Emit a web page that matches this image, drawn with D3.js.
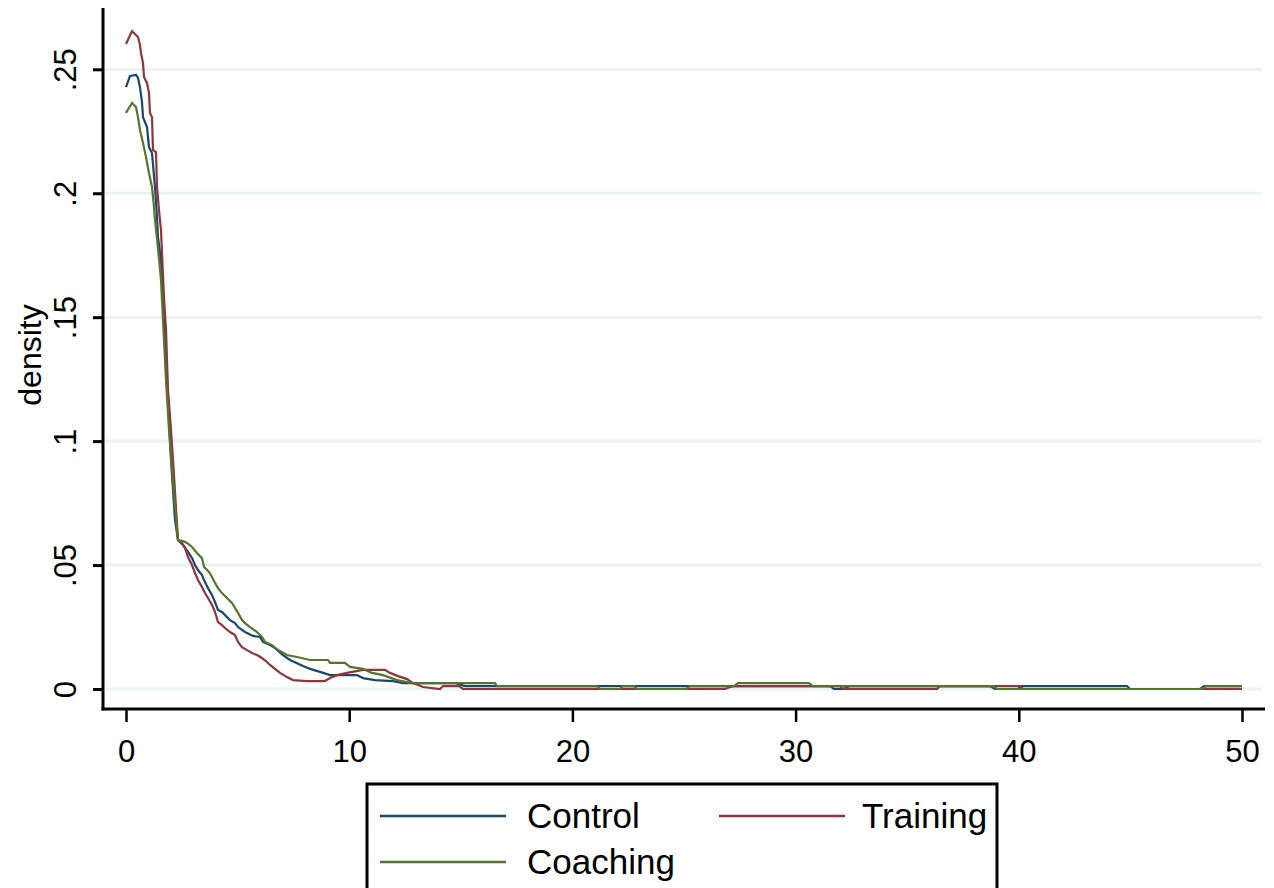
<!DOCTYPE html>
<meta charset="utf-8">
<script src="https://d3js.org/d3.v7.min.js"></script>
<style>
  body { margin: 0; background: #fff; }
  text { font-family: "Liberation Sans", Arial, sans-serif; fill: #000; }
</style>
<div id="chart"></div>
<script>

// Series: [value, density]
const control = [[0,.2428],[0.179,.2473],[0.448,.2477],[0.538,.2465],[0.627,.2428],[0.717,.2368],[0.762,.2307],[0.941,.2267],[1.03,.2186],[1.165,.2162],[1.299,.2025],[1.389,.1904],[1.434,.1823],[1.568,.1731],[1.658,.1569],[1.837,.1247],[2.016,.0924],[2.195,.0682],[2.33,.0601],[2.554,.0581],[2.778,.0553],[2.957,.0528],[3.091,.05],[3.226,.048],[3.405,.046],[3.495,.044],[3.674,.0407],[3.853,.0379],[3.987,.0351],[4.122,.0319],[4.301,.0311],[4.525,.029],[4.659,.0278],[4.884,.0266],[5.018,.025],[5.332,.023],[5.69,.0214],[6.004,.021],[6.138,.019],[6.452,.0177],[6.676,.0165],[7.034,.0137],[7.348,.0117],[7.93,.0093],[8.244,.0081],[8.692,.0069],[9.14,.0056],[10.349,.0056],[10.618,.0044],[11.156,.0036],[11.962,.0032],[12.41,.0024],[14.74,.0024],[15.188,.0012],[31.54,.0012],[31.72,0],[32.12,0],[32.44,.0012],[38.71,.0012],[38.93,0],[39.96,0],[40.1,.0012],[44.85,.0012],[44.98,0],[48.12,0],[48.3,.0012],[50,.0012]];

const training = [[0,.2602],[0.269,.2654],[0.538,.263],[0.627,.2598],[0.672,.2566],[0.762,.2525],[0.806,.2469],[0.941,.2445],[1.03,.2404],[1.075,.2324],[1.165,.2307],[1.21,.2174],[1.344,.2166],[1.389,.2025],[1.478,.1932],[1.568,.1852],[1.613,.1759],[1.703,.1577],[1.792,.1448],[1.882,.1206],[2.016,.1045],[2.106,.0924],[2.33,.0601],[2.509,.0589],[2.643,.0569],[2.778,.0532],[2.957,.05],[3.091,.0468],[3.226,.044],[3.405,.0411],[3.539,.0387],[3.674,.0367],[3.853,.0339],[3.987,.0311],[4.122,.027],[4.301,.0258],[4.435,.0246],[4.659,.023],[4.884,.0218],[5.018,.019],[5.197,.0169],[5.421,.0157],[5.645,.0145],[5.869,.0137],[6.093,.0125],[6.317,.0109],[6.452,.0097],[6.676,.0081],[6.9,.0065],[7.213,.0048],[7.482,.0036],[8.109,.0032],[8.916,.0032],[9.14,.0044],[9.453,.0056],[9.901,.0065],[10.618,.0077],[11.604,.0077],[11.828,.0065],[12.186,.0052],[12.59,.004],[12.858,.0024],[13.306,.0008],[14.068,0],[14.203,.0012],[14.919,.0012],[15.099,0],[26.84,0],[27.2,.0012],[31.99,.0012],[32.12,0],[36.34,0],[36.47,.0012],[40.05,.0012],[40.19,0],[50,0]];

const coaching = [[0,.2324],[0.269,.2364],[0.448,.2348],[0.538,.2307],[0.627,.2255],[0.762,.2203],[0.896,.2146],[1.03,.2082],[1.165,.2025],[1.254,.1944],[1.299,.1892],[1.434,.1779],[1.568,.165],[1.658,.1489],[1.792,.1246],[1.927,.1045],[2.061,.0883],[2.195,.0742],[2.33,.0601],[2.554,.0597],[2.733,.0589],[2.957,.0573],[3.181,.0549],[3.405,.0528],[3.495,.0492],[3.719,.0472],[3.853,.0452],[3.987,.0428],[4.122,.0407],[4.301,.0387],[4.525,.0367],[4.749,.0347],[4.884,.0327],[5.018,.0307],[5.197,.0278],[5.332,.0266],[5.556,.025],[5.869,.023],[6.093,.021],[6.228,.019],[6.541,.0177],[6.81,.0157],[7.213,.0137],[7.661,.0129],[8.244,.0117],[9.05,.0117],[9.14,.0105],[9.812,.0105],[10.036,.0089],[10.618,.0081],[11.022,.0065],[11.514,.0056],[12.142,.0036],[12.814,.0024],[16.53,.0024],[16.62,.0012],[21.1,.0012],[21.24,0],[22.13,0],[22.27,.0012],[22.76,.0012],[22.89,0],[25.09,0],[25.27,.0012],[27.24,.0012],[27.42,.0024],[30.6,.0024],[30.78,.0012],[38.84,.0012],[39.02,0],[48.21,0],[48.39,.0012],[50,.0012]];

const seriesNames = ["Control", "Training", "Coaching"];
const seriesColors = ["#1a476f", "#90353b", "#55752f"];
const xTicks = [0, 10, 20, 30, 40, 50];
const yTicks = [0, .05, .1, .15, .2, .25];
const yTickLabels = ["0", ".05", ".1", ".15", ".2", ".25"];

const W = 1274, H = 888;
const axisX = 103, axisY = 709;

const svg = d3.select("#chart").append("svg")
    .attr("width", W).attr("height", H);
svg.append("rect").attr("width", W).attr("height", H).attr("fill", "#fff");

const x = d3.scaleLinear().domain([0, 50]).range([126, 1242]);
const y = d3.scaleLinear().domain([0, .25]).range([689, 69.3]);

// gridlines
svg.append("g").selectAll("line")
    .data(yTicks)
    .join("line")
    .attr("x1", axisX + 2).attr("x2", 1262)
    .attr("y1", d => y(d)).attr("y2", d => y(d))
    .attr("stroke", "#eaf2f3").attr("stroke-width", 3);

// curves
const line = d3.line().x(d => x(d[0])).y(d => y(d[1]));
[control, training, coaching].forEach(function (s, i) {
    svg.append("path")
        .datum(s)
        .attr("fill", "none")
        .attr("stroke", seriesColors[i])
        .attr("stroke-width", 2.2)
        .attr("d", line);
});

// y axis
const yAxis = svg.append("g")
    .attr("transform", `translate(${axisX},0)`)
    .call(d3.axisLeft(y).tickValues(yTicks).tickSize(10).tickSizeOuter(0)
        .tickFormat((d, i) => yTickLabels[i]));
yAxis.select(".domain").remove();
yAxis.selectAll(".tick line").attr("stroke", "#000").attr("stroke-width", 3);
yAxis.selectAll(".tick text")
    .attr("transform", "rotate(-90)")
    .attr("x", 0).attr("y", -27).attr("dy", 0)
    .attr("text-anchor", "middle")
    .style("font-size", "31px")
    .style("font-family", "'Liberation Sans', Arial, sans-serif");

// x axis
const xAxis = svg.append("g")
    .attr("transform", `translate(0,${axisY})`)
    .call(d3.axisBottom(x).tickValues(xTicks).tickSize(13).tickSizeOuter(0));
xAxis.select(".domain").remove();
xAxis.selectAll(".tick line").attr("stroke", "#000").attr("stroke-width", 2.5);
xAxis.selectAll(".tick text")
    .attr("y", 53).attr("dy", 0)
    .style("font-size", "31px")
    .style("font-family", "'Liberation Sans', Arial, sans-serif");

// axis lines
svg.append("line").attr("x1", axisX).attr("x2", axisX).attr("y1", 8).attr("y2", axisY + 1.5)
    .attr("stroke", "#000").attr("stroke-width", 3);
svg.append("line").attr("x1", axisX - 1.5).attr("x2", 1265).attr("y1", axisY).attr("y2", axisY)
    .attr("stroke", "#000").attr("stroke-width", 3);

// y title
svg.append("text")
    .attr("transform", "translate(41,355) rotate(-90)")
    .attr("text-anchor", "middle")
    .style("font-size", "32px")
    .text("density");

// legend
const lg = svg.append("g");
lg.append("rect")
    .attr("x", 367).attr("y", 784).attr("width", 630).attr("height", 130)
    .attr("fill", "#fff").attr("stroke", "#000").attr("stroke-width", 3);
const legendPos = [[380, 816], [719, 816], [380, 862]];
const legendTextX = [527, 862, 527];
seriesNames.forEach(function (name, i) {
    const p = legendPos[i];
    lg.append("line")
        .attr("x1", p[0]).attr("x2", p[0] + 126)
        .attr("y1", p[1]).attr("y2", p[1])
        .attr("stroke", seriesColors[i]).attr("stroke-width", 2.5);
    lg.append("text")
        .attr("x", legendTextX[i]).attr("y", p[1] + 12)
        .style("font-size", "35px")
        .text(name);
});
</script>
